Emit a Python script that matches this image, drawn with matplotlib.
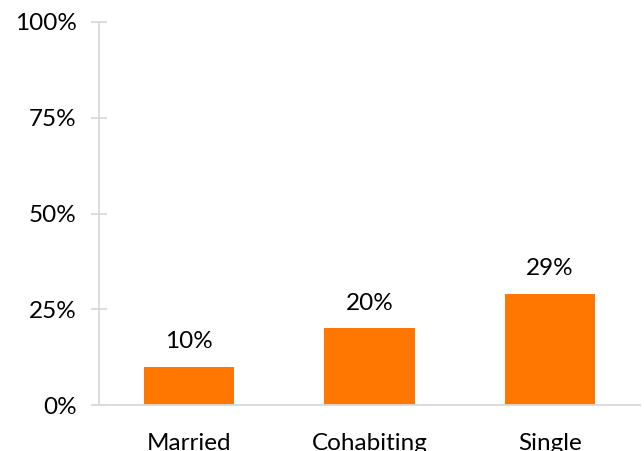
import matplotlib.pyplot as plt
from matplotlib.ticker import PercentFormatter

plt.rcParams['font.family'] = ['Lato', 'DejaVu Sans']

categories = ["Married", "Cohabiting", "Single"]
shares = [10, 20, 29]
y_ticks = [0, 25, 50, 75, 100]

fig = plt.figure(figsize=(6.44, 4.51), dpi=100)
ax = fig.add_axes([99 / 644, 46 / 451, 541 / 644, 383 / 451])

x = range(len(categories))
bars = ax.bar(x, shares, width=0.5, color="#FF7600")

# value labels above bars
for b, v in zip(bars, shares):
    ax.annotate(f"{v}%", (b.get_x() + b.get_width() / 2, v),
                xytext=(0, 18), textcoords="offset points",
                ha="center", va="center", fontsize=17.5, color="black")

ax.set_xlim(-0.5, 2.5)
ax.set_ylim(0, 100)
ax.set_xticks(list(x))
ax.set_xticklabels(categories)
ax.set_yticks(y_ticks)
ax.yaxis.set_major_formatter(PercentFormatter(decimals=0))

for s in ["top", "right"]:
    ax.spines[s].set_visible(False)
for s in ["left", "bottom"]:
    ax.spines[s].set_color("#D9D9D9")
    ax.spines[s].set_linewidth(1.3)

ax.tick_params(axis="y", direction="inout", length=12, width=1.3, color="#D9D9D9",
               labelsize=17.5, pad=10)
ax.tick_params(axis="x", length=0, labelsize=17.5, pad=20)

fig.savefig("out.png", dpi=100)
